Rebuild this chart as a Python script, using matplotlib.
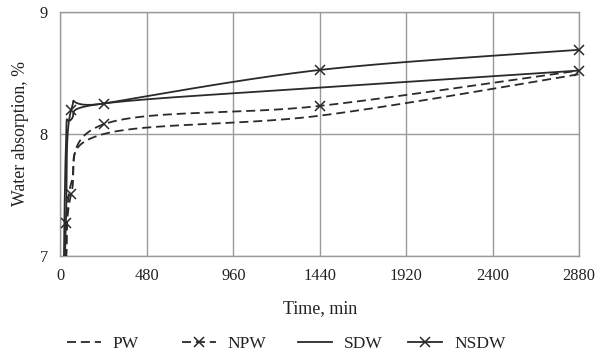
import numpy as np
import matplotlib
matplotlib.use("Agg")
import matplotlib.pyplot as plt
from matplotlib.lines import Line2D

# ---- data ----
times = [10, 30, 60, 240, 1440, 2880]
pw   = [6.30, 6.95, 7.60, 8.00, 8.15, 8.49]
npw  = [6.30, 6.90, 7.51, 8.08, 8.23, 8.52]
sdw  = [6.00, 7.90, 8.12, 8.25, 8.38, 8.52]
nsdw = [6.00, 7.27, 8.20, 8.25, 8.525, 8.69]
series_names = ["PW", "NPW", "SDW", "NSDW"]
x_ticks = [0, 480, 960, 1440, 1920, 2400, 2880]
y_ticks = [7, 8, 9]


def excel_smooth(x, y, n=80):
    """Catmull-Rom style Bezier smoothing like Excel's smoothed lines."""
    P = np.column_stack([x, y]).astype(float)
    out = [P[0]]
    m = len(P)
    for i in range(m - 1):
        p0 = P[i - 1] if i > 0 else P[i]
        p1 = P[i]
        p2 = P[i + 1]
        p3 = P[i + 2] if i + 2 < m else P[i + 1]
        c1 = p1 + (p2 - p0) / 6.0
        c2 = p2 - (p3 - p1) / 6.0
        t = np.linspace(0, 1, n)[1:, None]
        seg = ((1 - t) ** 3) * p1 + 3 * ((1 - t) ** 2) * t * c1 + 3 * (1 - t) * t ** 2 * c2 + t ** 3 * p2
        out.extend(seg)
    out = np.array(out)
    return out[:, 0], out[:, 1]


plt.rcParams['font.family'] = ['Liberation Serif', 'DejaVu Serif']
W, H = 601, 357
fig = plt.figure(figsize=(W / 100, H / 100), dpi=100)
ax = fig.add_axes([60.5 / W, 1 - 256 / H, (579 - 60.5) / W, (256 - 12) / H])

lc = '#2a2a2a'
lw = 1.3
dash = (0, (5, 2.7))

styles = [
    dict(ls=dash, marker=None),
    dict(ls=dash, marker='x'),
    dict(ls='-', marker=None),
    dict(ls='-', marker='x'),
]
data = [pw, npw, sdw, nsdw]

ymin, ymax = 7, 9
for name, vals, st in zip(series_names, data, styles):
    xs, ys = excel_smooth(times, vals)
    ax.plot(xs, ys, color=lc, lw=lw, linestyle=st['ls'], clip_on=True, zorder=3)
    if st['marker']:
        mx = [t for t, v in zip(times, vals) if v >= ymin]
        my = [v for v in vals if v >= ymin]
        ax.plot(mx, my, linestyle='none', marker='x', ms=7, mew=1.1, color=lc,
                zorder=4, clip_on=False)

ax.set_xlim(0, 2880)
ax.set_ylim(ymin, ymax)
ax.set_xticks(x_ticks)
ax.set_yticks(y_ticks)
ax.set_xticklabels([str(v) for v in x_ticks])
ax.set_yticklabels([str(v) for v in y_ticks])
ax.tick_params(length=0, labelsize=11.8, colors='#222222', pad=9)
ax.grid(True, color='#9a9a9a', lw=1.0)
ax.set_axisbelow(True)
for s in ax.spines.values():
    s.set_color('#9a9a9a')
    s.set_linewidth(1.0)

ax.set_xlabel('Time, min', fontsize=13, color='#222222', labelpad=11)
ax.set_ylabel('Water absorption, %', fontsize=12.8, color='#222222', labelpad=8)

# legend: one entry per legend, placed like the reference
entry_x = [66.7, 181.7, 298, 408]
for st, name, x0 in zip(styles, series_names, entry_x):
    h = Line2D([], [], color=lc, lw=lw, linestyle=st['ls'],
               marker=st['marker'], ms=7, mew=1.1)
    lg = fig.legend([h], [name], loc='center left', bbox_to_anchor=(x0 / W, 1 - 344 / H),
                    frameon=False, fontsize=12.5, handlelength=1.96,
                    handletextpad=0.69, numpoints=1, borderpad=0, borderaxespad=0)
    for t in lg.get_texts():
        t.set_color('#222222')

fig.savefig('out.png', dpi=100)
